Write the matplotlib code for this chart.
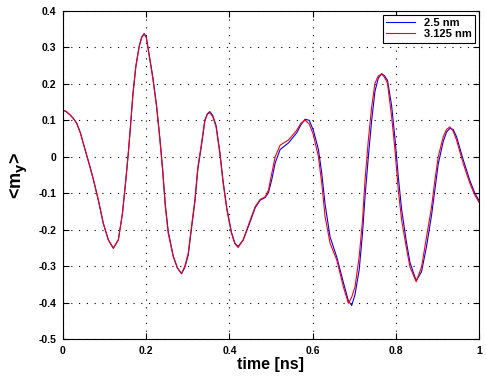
import numpy as np
import matplotlib
matplotlib.use("Agg")
import matplotlib.pyplot as plt

plt.rcParams['font.family'] = ['Liberation Sans', 'DejaVu Sans']
plt.rcParams['font.weight'] = 'bold'
plt.rcParams['mathtext.default'] = 'bf'
plt.rcParams['axes.unicode_minus'] = False

# tiempo [ns]
time = [0, 0.008, 0.017, 0.025, 0.033, 0.042, 0.05, 0.058, 0.065, 0.073, 0.085, 0.097, 0.109, 0.121,
        0.133, 0.143, 0.151, 0.157, 0.162, 0.168, 0.175, 0.183, 0.189, 0.195,
        0.2, 0.205, 0.216, 0.225, 0.233, 0.24, 0.246, 0.253, 0.265, 0.275,
        0.285, 0.293, 0.301, 0.309, 0.317, 0.324, 0.333, 0.341, 0.347, 0.353,
        0.36, 0.368, 0.377, 0.385, 0.394, 0.405, 0.413, 0.421, 0.433, 0.45,
        0.462, 0.474, 0.486, 0.494, 0.502, 0.51, 0.522, 0.542, 0.562, 0.572,
        0.582, 0.592, 0.602, 0.614, 0.622, 0.63, 0.642, 0.658, 0.674, 0.686,
        0.694, 0.702, 0.712, 0.72, 0.726, 0.734, 0.742, 0.75, 0.758, 0.766,
        0.773, 0.78, 0.79, 0.798, 0.806, 0.814, 0.825, 0.834, 0.849, 0.862,
        0.874, 0.886, 0.894, 0.902, 0.914, 0.922, 0.93, 0.938, 0.946, 0.962,
        0.978, 0.99, 1.0]

# 3.125 nm (rojo)
my_red = [0.128, 0.124, 0.115, 0.105, 0.092, 0.065, 0.032, 0.0, -0.028, -0.062, -0.119, -0.183, -0.228, -0.251,
          -0.228, -0.155, -0.064, 0.01, 0.08, 0.17, 0.247, 0.302, 0.327, 0.337,
          0.328, 0.293, 0.215, 0.137, 0.046, -0.045, -0.137, -0.21, -0.274, -0.305,
          -0.32, -0.3, -0.265, -0.19, -0.119, -0.03, 0.037, 0.101, 0.117, 0.121,
          0.11, 0.082, 0.009, -0.073, -0.146, -0.21, -0.238, -0.249, -0.228, -0.174,
          -0.137, -0.117, -0.11, -0.091, -0.045, 0.0, 0.032, 0.046, 0.073, 0.092,
          0.101, 0.09, 0.06, 0.0, -0.073, -0.164, -0.237, -0.283, -0.357, -0.402,
          -0.385, -0.357, -0.274, -0.174, -0.064, 0.046, 0.137, 0.202, 0.222, 0.227,
          0.218, 0.202, 0.11, 0.019, -0.091, -0.174, -0.247, -0.302, -0.343, -0.302,
          -0.219, -0.137, -0.064, 0.0, 0.055, 0.075, 0.082, 0.07, 0.046, -0.018,
          -0.073, -0.105, -0.125]

# 2.5 nm (azul)
my_blue = [0.128, 0.124, 0.115, 0.105, 0.092, 0.065, 0.032, 0.0, -0.028, -0.062, -0.119, -0.183, -0.228, -0.251,
           -0.228, -0.155, -0.064, 0.01, 0.08, 0.17, 0.247, 0.302, 0.328, 0.338,
           0.33, 0.296, 0.218, 0.14, 0.05, -0.04, -0.132, -0.205, -0.272, -0.305,
           -0.321, -0.303, -0.27, -0.196, -0.125, -0.036, 0.032, 0.098, 0.118, 0.124,
           0.113, 0.086, 0.014, -0.068, -0.142, -0.207, -0.237, -0.246, -0.229, -0.178,
           -0.14, -0.119, -0.112, -0.098, -0.062, -0.017, 0.02, 0.038, 0.066, 0.088,
           0.103, 0.1, 0.072, 0.02, -0.045, -0.13, -0.22, -0.275, -0.345, -0.395,
           -0.408, -0.378, -0.31, -0.21, -0.11, 0.0, 0.1, 0.18, 0.216, 0.228,
           0.222, 0.21, 0.14, 0.05, -0.055, -0.145, -0.23, -0.29, -0.34, -0.315,
           -0.245, -0.16, -0.09, -0.02, 0.042, 0.068, 0.078, 0.075, 0.055, -0.008,
           -0.065, -0.1, -0.12]

x_ticks = [0, 0.2, 0.4, 0.6, 0.8, 1]
x_labels = ['0', '0.2', '0.4', '0.6', '0.8', '1']
y_ticks = [-0.5, -0.4, -0.3, -0.2, -0.1, 0, 0.1, 0.2, 0.3, 0.4]
y_labels = ['-0.5', '-0.4', '-0.3', '-0.2', '-0.1', '0', '0.1', '0.2', '0.3', '0.4']

fig = plt.figure(figsize=(4.86, 3.77), dpi=100)
ax = fig.add_axes([0.1296, 0.1008, 0.856, 0.870])

ax.plot(time, my_blue, color='blue', lw=0.8, label='2.5 nm')
ax.plot(time, my_red, color='red', lw=0.8, label='3.125 nm')

ax.set_xlim(0, 1)
ax.set_ylim(-0.5, 0.4)
ax.set_xticks(x_ticks, x_labels)
ax.set_yticks(y_ticks, y_labels)
ax.tick_params(direction='in', top=True, right=True, length=4, width=0.8,
               labelsize=7.5, pad=5)
for s in ax.spines.values():
    s.set_linewidth(0.8)

ax.grid(True, color='black', linestyle=(0, (1, 6)), linewidth=0.8)

ax.set_xlabel('time [ns]', fontsize=11.5, fontweight='bold', labelpad=1)
ax.set_ylabel(r'<m$_y$>', fontsize=13, fontweight='bold', labelpad=6)

leg = ax.legend(loc='upper right', prop={'weight': 'bold', 'size': 8},
                fancybox=False, framealpha=1, edgecolor='black', borderpad=0.3,
                handlelength=2.6, labelspacing=0.1, borderaxespad=0.35)
leg.get_frame().set_linewidth(0.8)

fig.savefig('out.png', dpi=100)
